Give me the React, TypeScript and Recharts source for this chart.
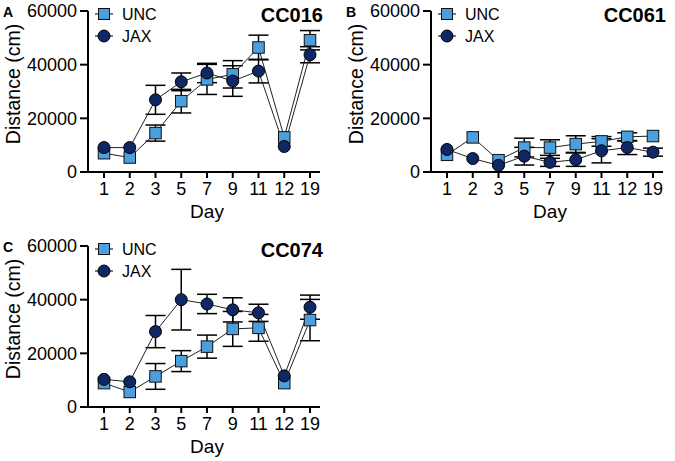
import { LineChart, Line, XAxis, YAxis, ErrorBar } from 'recharts';

const days = ['1', '2', '3', '5', '7', '9', '11', '12', '19'];
const yTicks = [0, 20000, 40000, 60000];

// error values of null: whiskers too short to show outside the marker
// CC016
const cc016Unc = [7000, 5400, 14500, 26400, 34500, 36400, 46400, 12900, 49100];
const cc016UncErr = [null, null, 3000, 4400, 5600, 5100, 4600, null, 3600];
const cc016Jax = [9100, 9100, 26900, 33600, 36900, 33900, 37600, 9500, 43700];
const cc016JaxErr = [null, null, 5400, 3300, 3600, 5700, 4400, null, 3000];

// CC061
const cc061Unc = [6400, 12900, 4400, 9100, 9100, 10400, 11400, 13100, 13400];
const cc061UncErr = [null, null, null, 3500, 2900, 3100, 1800, 1500, null];
const cc061Jax = [8400, 5000, 2500, 5900, 3600, 4600, 7900, 9100, 7400];
const cc061JaxErr = [null, null, null, 3300, 1500, 2500, 4500, 2600, 1500];

// CC074
const cc074Unc = [8900, 5600, 11400, 17100, 22500, 29100, 29500, 8900, 32400];
const cc074UncErr = [null, null, 4800, 3900, 4300, 6500, 5000, null, 7700];
const cc074Jax = [10300, 9400, 28100, 40000, 38400, 36200, 35100, 11600, 37200];
const cc074JaxErr = [null, null, 6000, 11300, 3600, 4500, 3200, null, 4500];

const UNC_COLOR = '#4a9fdc';
const JAX_COLOR = '#0d2864';
const FONT = '"Liberation Sans", Arial, sans-serif';
const W = 340;
const H = 222;

const SquareDot = (props: any) => {
  const { cx, cy, index } = props;
  if (cx == null || cy == null) return null;
  return (
    <rect
      key={`sq-${index}`}
      x={cx - 5.75}
      y={cy - 5.75}
      width={11.5}
      height={11.5}
      fill={UNC_COLOR}
      stroke="#111"
      strokeWidth={1}
    />
  );
};

type PanelProps = {
  letter: string;
  title: string;
  unc: number[];
  uncErr: (number | null)[];
  jax: number[];
  jaxErr: (number | null)[];
  left: number;
  top: number;
};

const Panel = ({ letter, title, unc, uncErr, jax, jaxErr, left, top }: PanelProps) => {
  const data = days.map((d, i) => ({
    day: d,
    unc: unc[i],
    uncErr: uncErr[i],
    jax: jax[i],
    jaxErr: jaxErr[i],
  }));

  return (
    <div style={{ position: 'absolute', left, top, width: W, height: H }}>
      <LineChart width={W} height={H} data={data} margin={{ top: 11, right: 20, bottom: 0, left: 0 }}>
        <XAxis
          dataKey="day"
          height={50}
          interval={0}
          padding={{ left: 16, right: 10 }}
          axisLine={{ stroke: '#000', strokeWidth: 2 }}
          tickLine={{ stroke: '#000', strokeWidth: 2 }}
          tickSize={6}
          tickMargin={4}
          tick={{ fill: '#000', fontSize: 18, fontFamily: FONT }}
        />
        <YAxis
          width={88}
          domain={[0, 60000]}
          ticks={yTicks}
          interval={0}
          axisLine={{ stroke: '#000', strokeWidth: 2 }}
          tickLine={{ stroke: '#000', strokeWidth: 2 }}
          tickSize={8}
          tickMargin={3}
          tick={{ fill: '#000', fontSize: 18, fontFamily: FONT }}
        />
        <Line
          dataKey="unc"
          stroke="#222"
          strokeWidth={1}
          dot={SquareDot}
          activeDot={false}
          isAnimationActive={false}
        >
          <ErrorBar dataKey="uncErr" direction="y" width={10} stroke="#000" strokeWidth={1.5} />
        </Line>
        <Line
          dataKey="jax"
          stroke="#222"
          strokeWidth={1}
          dot={{ r: 6, fill: JAX_COLOR, stroke: '#000', strokeWidth: 1 }}
          activeDot={false}
          isAnimationActive={false}
        >
          <ErrorBar dataKey="jaxErr" direction="y" width={10} stroke="#000" strokeWidth={1.5} />
        </Line>
      </LineChart>
      <svg
        width={W}
        height={H}
        style={{ position: 'absolute', left: 0, top: 0, pointerEvents: 'none', fontFamily: FONT }}
      >
        <text x={3} y={17} fontSize={14} fontWeight="bold" fill="#000">
          {letter}
        </text>
        <text x={323} y={22} fontSize={20} fontWeight="bold" fill="#000" textAnchor="end">
          {title}
        </text>
        <text
          x={0}
          y={0}
          fontSize={19.5}
          fill="#000"
          textAnchor="middle"
          transform={`translate(20, 84) rotate(-90)`}
        >
          Distance (cm)
        </text>
        <text x={207} y={218} fontSize={19} fill="#000" textAnchor="middle">
          Day
        </text>
        {/* legend */}
        <line x1={95} x2={113} y1={14} y2={14} stroke="#222" strokeWidth={1.2} />
        <rect x={98.5} y={8.5} width={11} height={11} fill={UNC_COLOR} stroke="#111" strokeWidth={1} />
        <text x={122} y={14} dy="0.35em" fontSize={16} fill="#000">
          UNC
        </text>
        <line x1={95} x2={113} y1={36} y2={36} stroke="#222" strokeWidth={1.2} />
        <circle cx={104} cy={36} r={6} fill={JAX_COLOR} stroke="#000" strokeWidth={1} />
        <text x={122} y={36} dy="0.35em" fontSize={16} fill="#000">
          JAX
        </text>
      </svg>
    </div>
  );
};

export default function App() {
  return (
    <div style={{ position: 'absolute', left: 0, top: 0, width: 675, height: 461, background: '#fff' }}>
      <Panel letter="A" title="CC016" unc={cc016Unc} uncErr={cc016UncErr} jax={cc016Jax} jaxErr={cc016JaxErr} left={0} top={0} />
      <Panel letter="B" title="CC061" unc={cc061Unc} uncErr={cc061UncErr} jax={cc061Jax} jaxErr={cc061JaxErr} left={343} top={0} />
      <Panel letter="C" title="CC074" unc={cc074Unc} uncErr={cc074UncErr} jax={cc074Jax} jaxErr={cc074JaxErr} left={0} top={235} />
    </div>
  );
}
